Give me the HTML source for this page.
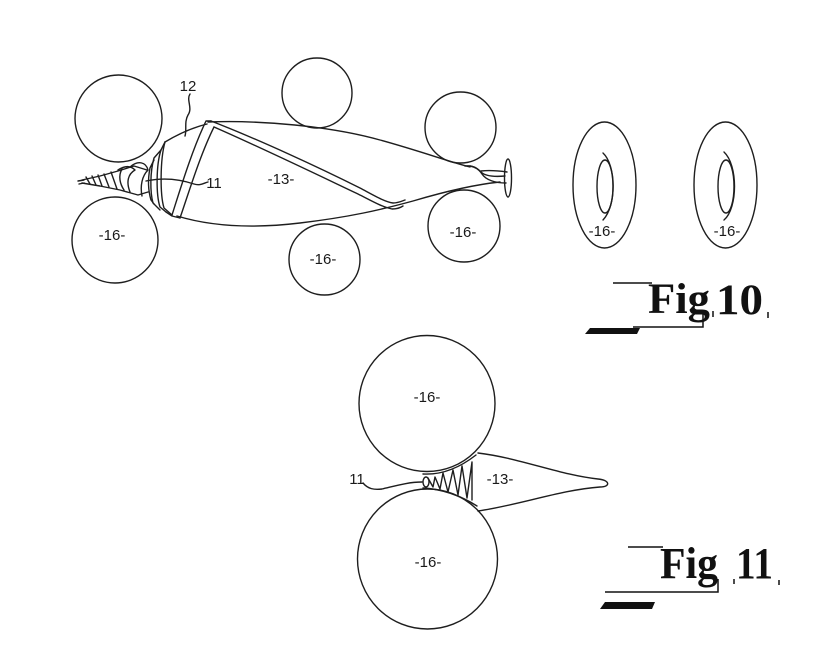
<!DOCTYPE html>
<html><head><meta charset="utf-8"><style>
html,body{margin:0;padding:0;background:#fff;}
svg{display:block;}
text{font-family:"Liberation Sans",sans-serif;fill:#1a1a1a;}
.f{font-family:"Liberation Serif",serif;font-weight:bold;fill:#111;}
</style></head><body>
<svg width="822" height="646" viewBox="0 0 822 646" xmlns="http://www.w3.org/2000/svg">
<g fill="none" stroke="#1e1e1e" stroke-width="1.4" stroke-linecap="round" stroke-linejoin="round">
<!-- Fig 10 circles -->
<circle cx="118.5" cy="118.5" r="43.5"/>
<circle cx="115" cy="240" r="43"/>
<circle cx="317" cy="93" r="35"/>
<circle cx="324.5" cy="259.5" r="35.5"/>
<circle cx="460.5" cy="127.5" r="35.5"/>
<circle cx="464" cy="226" r="36"/>

<!-- body outlines -->
<path d="M208,122 C260,120 330,126 380,140 C420,151 450,162 470,167"/>
<path d="M177,216 C210,226 250,229 300,223 C350,217 380,210 413,201 C440,193 470,185 500,182"/>
<!-- cap top -->
<path d="M165,142 C180,133 195,127 207,124"/>
<!-- band front edge -->
<path d="M172,215 C180,190 192,150 206,121 L211,121"/>
<path d="M180,218 C188,195 200,155 214,127"/>
<!-- band diagonal -->
<path d="M211,121 C260,140 320,168 360,188 C375,196 385,202 393,203 C398,203 402,201 405,200"/>
<path d="M214,127 C262,148 320,176 358,194 C372,201 382,207 392,209 C397,209 400,208 403,206"/>
<!-- cap rings -->
<path d="M165,142 C160,160 160,195 164,208 L172,215"/>
<path d="M165,142 L161,150 C156,165 156,195 160,207 L166,212"/>
<path d="M161,150 L154,158 C150,172 150,192 153,203 L160,210"/>
<path d="M154,160 L150,168 C148,178 148,190 151,200 L154,204"/>
<path d="M166,212 L172,216 L180,218"/>
<!-- drill bit -->
<path d="M82,180 L100,176 L118,171 L134,166 L147,170"/>
<path d="M82,183 L100,186 L120,190 L138,195 L148,192"/>
<path d="M86,177 L90,184 M92,176 L96,185 M98,175 L102,186 M104,174 L109,187 M111,172 L117,189"/>
<path d="M118,170 C124,166 130,165 135,170 C128,174 126,182 130,192"/>
<path d="M130,167 C138,160 146,162 148,170 C142,176 140,186 142,196"/>
<path d="M122,169 C118,176 120,184 124,190"/>
<path d="M78,181 L84,180 M79,184 L84,183"/>
<!-- leaders -->
<path d="M146,181 C165,177 182,180 194,184 C200,186 204,183 208,182"/>
<path d="M190,94 C186,100 193,108 188,115 C184,122 187,130 185,136"/>
<!-- tail -->
<path d="M465,166 C472,165 478,168 482,174 C486,180 495,183 506,183"/>
<path d="M470,166 C476,167 479,170 481,172 C485,176 494,177 505,176"/>
<path d="M481,171 C490,170 500,171 507,172"/>
<ellipse cx="508" cy="178" rx="3.5" ry="19"/>

<!-- Fig 10 rings -->
<ellipse cx="604.5" cy="185" rx="31.5" ry="63"/>
<ellipse cx="605" cy="186.5" rx="8" ry="26.5"/>
<path d="M603,153 C616,165 617,205 603,220"/>
<ellipse cx="725.5" cy="185" rx="31.5" ry="63"/>
<ellipse cx="726" cy="186.5" rx="8" ry="26.5"/>
<path d="M724,152 C738,165 738,208 724,220"/>

<!-- Fig 11 -->
<circle cx="427" cy="403.5" r="68"/>
<circle cx="427.5" cy="559" r="70"/>
<path d="M423,474 C440,475 458,469 476,455" />
<path d="M423,488 C440,489 458,494 477,506" />
<ellipse cx="426" cy="482" rx="3" ry="5"/>
<path d="M428,478 L433,487 L435,477 L440,489 L443,473 L448,492 L453,470 L458,495 L462,466 L467,498 L472,462 L472,500"/>
<path d="M478,453 C520,458 560,475 598,479 C610,480 611,487 600,487 C560,490 520,505 478,511"/>
<path d="M363,483 C368,489 374,490 382,489 C395,486 408,482 422,482"/>
</g>

<!-- labels -->
<g font-size="15" text-anchor="middle">
<text x="188" y="91">12</text>
<text x="214" y="188">11</text>
<text x="281" y="184">-13-</text>
<text x="112" y="240">-16-</text>
<text x="323" y="264">-16-</text>
<text x="463" y="237">-16-</text>
<text x="602" y="236">-16-</text>
<text x="727" y="236">-16-</text>
<text x="427" y="402">-16-</text>
<text x="428" y="567">-16-</text>
<text x="500" y="484">-13-</text>
<text x="357" y="484">11</text>
</g>

<!-- captions -->
<g stroke="#111" fill="none" stroke-width="1.5">
<path d="M613,283 L652,283"/>
<path d="M633,327 L703,327 L703,312"/>
<path d="M713,311 L713,317 M768,312 L768,318"/>
<path d="M628,547 L663,547"/>
<path d="M605,592 L718,592 L718,579"/>
<path d="M734,579 L734,584 M779,580 L779,585"/>
</g>
<polygon points="585,334 590,328 640,328 637,334" fill="#111"/>
<polygon points="600,609 605,602 655,602 652,609" fill="#111"/>
<text class="f" x="648" y="313" font-size="43" textLength="62" lengthAdjust="spacingAndGlyphs">Fig</text>
<text class="f" x="716" y="314" font-size="43" textLength="47" lengthAdjust="spacingAndGlyphs">10</text>
<text class="f" x="660" y="578" font-size="44" textLength="58" lengthAdjust="spacingAndGlyphs">Fig</text>
<text class="f" x="736" y="578" font-size="44" textLength="37" lengthAdjust="spacingAndGlyphs">11</text>
</svg>
</body></html>
